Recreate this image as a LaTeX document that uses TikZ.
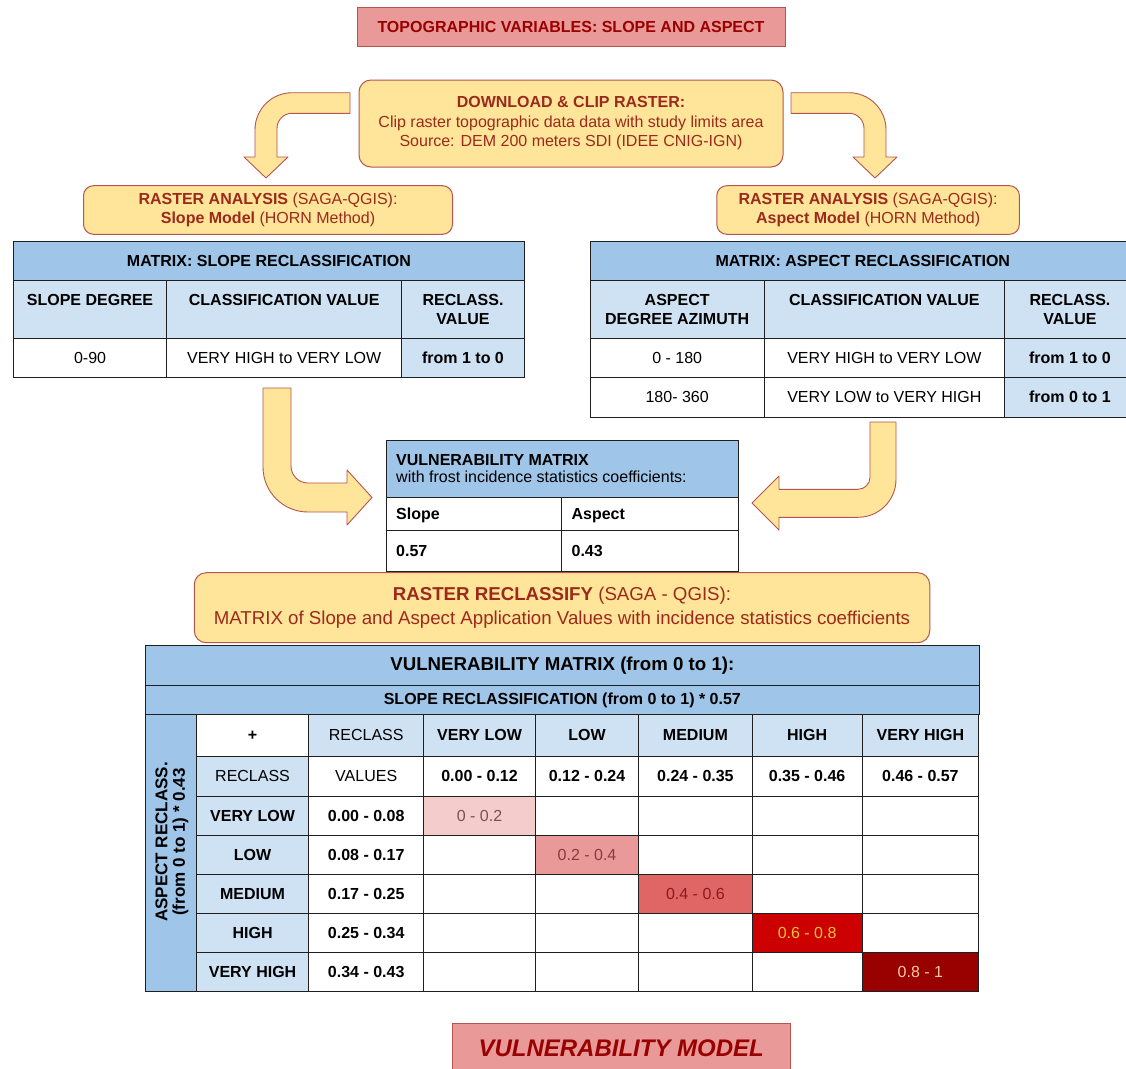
\documentclass[tikz,border=0pt]{standalone}
\usepackage{fontspec}
\setmainfont{Liberation Sans}

\definecolor{titlefill}{HTML}{EA9999}
\definecolor{edgered}{HTML}{B85450}
\definecolor{darkred}{HTML}{990000}
\definecolor{boxtext}{HTML}{9C2A1C}
\definecolor{sand}{HTML}{FFE599}
\definecolor{headblue}{HTML}{9FC5E8}
\definecolor{paleblue}{HTML}{CFE2F3}
\definecolor{gridc}{HTML}{1F1F1F}
\definecolor{vA}{HTML}{F4CCCC}
\definecolor{vB}{HTML}{EA9999}
\definecolor{vC}{HTML}{E06666}
\definecolor{vD}{HTML}{CC0000}
\definecolor{vE}{HTML}{990000}
\definecolor{tA}{HTML}{7F4F4F}
\definecolor{tB}{HTML}{8A3A3A}
\definecolor{tC}{HTML}{8B1A1A}
\definecolor{tD}{HTML}{F1C232}
\definecolor{tE}{HTML}{F9CB9C}

\newcommand\fsA{\fontsize{16}{19.5}\selectfont}
\newcommand\fsB{\fontsize{18.67}{23.4}\selectfont}
\newcommand\fsC{\fontsize{24}{28}\selectfont}
\newcommand\gridX{{196,308.3,423.3,535,638.3,751.7,861.7,978.3}}
\newcommand\gridY{{714,756,796,835,874,913.3,951.7,991}}

% table cell: name, style, x1, y1, x2, y2, text
\newcommand\Cell[7]{%
  \pgfmathsetmacro\cellW{#5-(#3)}%
  \pgfmathsetmacro\cellH{#6-(#4)}%
  \node[#2, minimum width=\cellW pt, minimum height=\cellH pt] (#1) at (#3,#4) {#7};%
}

\tikzset{
  redbox/.style={draw=edgered, fill=titlefill, line width=1pt, inner sep=0pt,
    text=darkred, font=\fsA\bfseries},
  ybox/.style={draw=edgered, fill=sand, line width=1pt, rounded corners=12pt,
    inner sep=0pt, text=boxtext, align=center, font=\fsA},
  blockarrow/.style={draw=edgered, fill=sand, line width=0.9pt, line join=round},
  cell/.style={draw=gridc, line width=0.8pt, anchor=north west, inner sep=0pt,
    align=center, font=\fsA, text=black},
  b/.style={font=\fsA\bfseries},
  hd/.style={cell, fill=headblue, b},
  lt/.style={cell, fill=paleblue},
  wt/.style={cell, fill=white},
  lefttxt/.style={anchor=west, font=\fsA\bfseries, text depth=0pt, inner sep=0pt},
}

\begin{document}
\begin{tikzpicture}[x=1pt, y=-1pt]
\useasboundingbox (0,0) rectangle (1126,1068);
\clip (0,0) rectangle (1126,1068);
\fill[white] (0,0) rectangle (1126,1068);

% ---- block arrows ----
\draw[blockarrow] (350,92.7) -- (292,92.7) .. controls (271.6,92.7) and (255,109.3) .. (255,129.7)
  -- (255,157) -- (244,157) -- (266,178) -- (288,157) -- (277,157) -- (277,128.3)
  .. controls (277,120) and (283.7,113.3) .. (292,113.3) -- (350,113.3) -- cycle;
\draw[blockarrow] (791,92.7) -- (849,92.7) .. controls (869.4,92.7) and (886,109.3) .. (886,129.7)
  -- (886,157) -- (897,157) -- (875,178) -- (853,157) -- (864,157) -- (864,128.3)
  .. controls (864,120) and (857.3,113.3) .. (849,113.3) -- (791,113.3) -- cycle;
\draw[blockarrow] (263,388) -- (263,467) .. controls (263,491.9) and (283.1,512) .. (308,512)
  -- (347,512) -- (347,525) -- (372,497.5) -- (347,470) -- (347,483) -- (308,483)
  .. controls (298.6,483) and (291,475.4) .. (291,466) -- (291,388) -- cycle;
\draw[blockarrow] (870,422) -- (870,477.3) .. controls (870,483.9) and (864.6,489.3) .. (858,489.3)
  -- (779,489.3) -- (779,476) -- (752,503) -- (779,530) -- (779,517.3) -- (858,517.3)
  .. controls (879,517.3) and (896,500.3) .. (896,479.3) -- (896,422) -- cycle;

% ---- title and process boxes ----
\node[redbox, minimum width=428pt, minimum height=39pt] (title) at (571,26.5)
  {TOPOGRAPHIC VARIABLES: SLOPE AND ASPECT};
\node[ybox, minimum width=424pt, minimum height=87pt] (clip) at (571,123.5)
  {\textbf{DOWNLOAD \& CLIP RASTER:}\\Clip raster topographic data data with study limits area\\Source: DEM 200 meters SDI (IDEE CNIG-IGN)};
\node[ybox, rounded corners=10pt, minimum width=369pt, minimum height=48.6pt] (slopebox) at (268,210)
  {\textbf{RASTER ANALYSIS} (SAGA-QGIS):\\\textbf{Slope Model} (HORN Method)};
\node[ybox, rounded corners=10pt, minimum width=302.6pt, minimum height=48.6pt] (aspectbox) at (868.1,210)
  {\textbf{RASTER ANALYSIS} (SAGA-QGIS):\\\textbf{Aspect Model} (HORN Method)};

% ---- slope reclassification table ----
\Cell{sh}{hd}{13}{241}{524}{280}{MATRIX: SLOPE RECLASSIFICATION}
\Cell{s1}{lt,b}{13}{280}{166.3}{338.3}{SLOPE DEGREE\\\phantom{X}}
\Cell{s2}{lt,b}{166.3}{280}{401.2}{338.3}{CLASSIFICATION VALUE\\\phantom{X}}
\Cell{s3}{lt,b}{401.2}{280}{524}{338.3}{RECLASS.\\VALUE}
\Cell{s4}{wt}{13}{338.3}{166.3}{376.7}{0-90}
\Cell{s5}{wt}{166.3}{338.3}{401.2}{376.7}{VERY HIGH to VERY LOW}
\Cell{s6}{lt,b}{401.2}{338.3}{524}{376.7}{from 1 to 0}

% ---- aspect reclassification table ----
\Cell{ah}{hd}{589.7}{241}{1135}{280}{MATRIX: ASPECT RECLASSIFICATION}
\Cell{a1}{lt,b}{589.7}{280}{763.8}{338.3}{ASPECT\\DEGREE AZIMUTH}
\Cell{a2}{lt,b}{763.8}{280}{1004.1}{338.3}{CLASSIFICATION VALUE\\\phantom{X}}
\Cell{a3}{lt,b}{1004.1}{280}{1135}{338.3}{RECLASS.\\VALUE}
\Cell{a4}{wt}{589.7}{338.3}{763.8}{376.7}{0 - 180}
\Cell{a5}{wt}{763.8}{338.3}{1004.1}{376.7}{VERY HIGH to VERY LOW}
\Cell{a6}{lt,b}{1004.1}{338.3}{1135}{376.7}{from 1 to 0}
\Cell{a7}{wt}{589.7}{376.7}{763.8}{416.7}{180- 360}
\Cell{a8}{wt}{763.8}{376.7}{1004.1}{416.7}{VERY LOW to VERY HIGH}
\Cell{a9}{lt,b}{1004.1}{376.7}{1135}{416.7}{from 0 to 1}

% ---- coefficient table ----
\Cell{vh}{cell,fill=headblue}{386}{440}{738}{497.3}{}
\Cell{v1}{wt}{386}{497.3}{561.4}{530}{}
\Cell{v2}{wt}{561.4}{497.3}{738}{530}{}
\Cell{v3}{wt}{386}{530}{561.4}{570.7}{}
\Cell{v4}{wt}{561.4}{530}{738}{570.7}{}
\node[anchor=west, align=left, inner sep=0pt, font=\fontsize{16}{17}\selectfont] (vht)
  at ([xshift=10pt]vh.west) {\textbf{VULNERABILITY MATRIX}\\with frost incidence statistics coefficients:};
\node[lefttxt] (v1t) at ([xshift=10pt]v1.west) {Slope};
\node[lefttxt] (v2t) at ([xshift=10pt]v2.west) {Aspect};
\node[lefttxt] (v3t) at ([xshift=10pt]v3.west) {0.57};
\node[lefttxt] (v4t) at ([xshift=10pt]v4.west) {0.43};

% ---- reclassify step ----
\node[ybox, font=\fsB, minimum width=735.5pt, minimum height=70pt] (reclass) at (562,607.7)
  {\textbf{RASTER RECLASSIFY} (SAGA - QGIS):\\MATRIX of Slope and Aspect Application Values with incidence statistics coefficients};

% ---- vulnerability matrix ----
\Cell{mh}{hd,font=\fsB\bfseries}{145.4}{645}{978.5}{685}{VULNERABILITY MATRIX (from 0 to 1):}
\Cell{mr}{hd}{145.4}{685}{978.5}{714}{SLOPE RECLASSIFICATION (from 0 to 1) * 0.57}
\Cell{mc}{cell,fill=headblue}{145.4}{714}{196}{991}{}
\node[rotate=90, align=center, inner sep=0pt, font=\fontsize{17}{17.5}\selectfont\bfseries] (mct)
  at (172,842) {ASPECT RECLASS.\\(from 0 to 1) * 0.43};

% header rows
\Cell{g00}{wt,b}{196}{714}{308.3}{756}{+}
\Cell{g01}{lt}{308.3}{714}{423.3}{756}{RECLASS}
\Cell{g10}{lt}{196}{756}{308.3}{796}{RECLASS}
\Cell{g11}{wt}{308.3}{756}{423.3}{796}{VALUES}
\foreach \lab/\rng [count=\c from 2] in {VERY LOW/0.00 - 0.12, LOW/0.12 - 0.24,
    MEDIUM/0.24 - 0.35, HIGH/0.35 - 0.46, VERY HIGH/0.46 - 0.57}{
  \pgfmathsetmacro\xa{\gridX[\c]}
  \pgfmathsetmacro\xb{\gridX[\c+1]}
  \Cell{g0\c}{lt,b}{\xa}{714}{\xb}{756}{\lab}
  \Cell{g1\c}{wt,b}{\xa}{756}{\xb}{796}{\rng}
}
% aspect classes
\foreach \lab/\rng [count=\r from 2] in {VERY LOW/0.00 - 0.08, LOW/0.08 - 0.17,
    MEDIUM/0.17 - 0.25, HIGH/0.25 - 0.34, VERY HIGH/0.34 - 0.43}{
  \pgfmathsetmacro\ya{\gridY[\r]}
  \pgfmathsetmacro\yb{\gridY[\r+1]}
  \Cell{g\r0}{lt,b}{196}{\ya}{308.3}{\yb}{\lab}
  \Cell{g\r1}{wt,b}{308.3}{\ya}{423.3}{\yb}{\rng}
  \foreach \c in {2,...,6}{
    \ifnum\r=\c\relax\else
      \pgfmathsetmacro\xa{\gridX[\c]}
      \pgfmathsetmacro\xb{\gridX[\c+1]}
      \Cell{g\r\c}{wt}{\xa}{\ya}{\xb}{\yb}{}
    \fi
  }
}
% combined classes on the diagonal
\Cell{g22}{cell,fill=vA,text=tA}{423.3}{796}{535}{835}{0 - 0.2}
\Cell{g33}{cell,fill=vB,text=tB}{535}{835}{638.3}{874}{0.2 - 0.4}
\Cell{g44}{cell,fill=vC,text=tC}{638.3}{874}{751.7}{913.3}{0.4 - 0.6}
\Cell{g55}{cell,fill=vD,text=tD}{751.7}{913.3}{861.7}{951.7}{0.6 - 0.8}
\Cell{g66}{cell,fill=vE,text=tE}{861.7}{951.7}{978.3}{991}{0.8 - 1}

% ---- result ----
\node[redbox, font=\fsC\bfseries\itshape, minimum width=337.7pt, minimum height=50pt] (model)
  at (621.2,1048.3) {VULNERABILITY MODEL};
\end{tikzpicture}
\end{document}
